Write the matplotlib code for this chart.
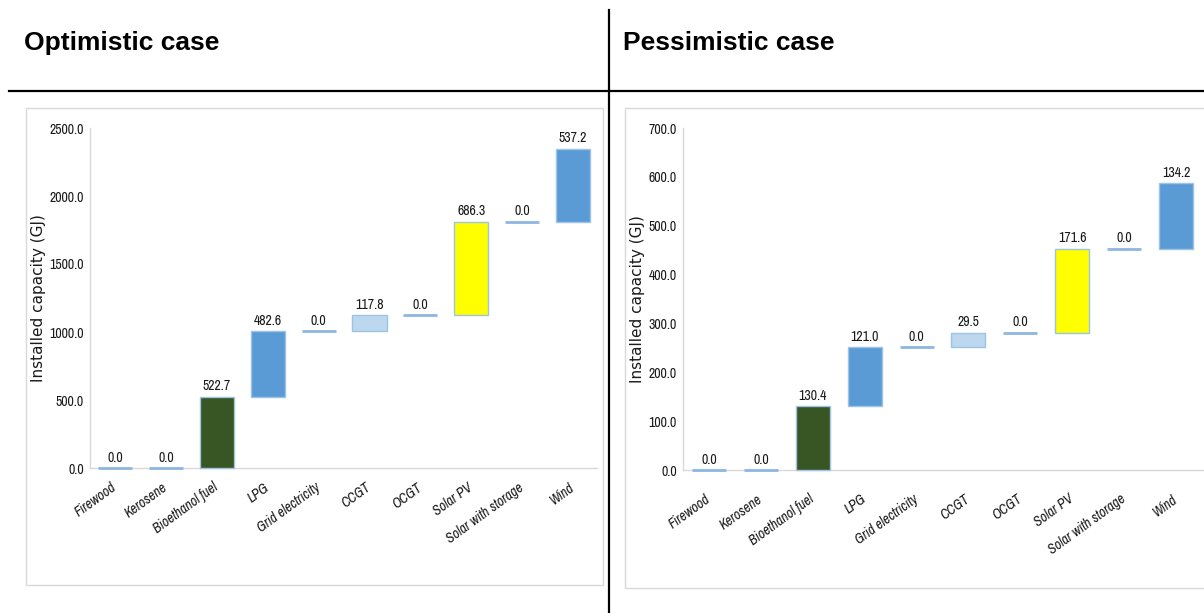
import matplotlib
matplotlib.use("Agg")
import matplotlib.pyplot as plt
from matplotlib.patches import Rectangle
from matplotlib.lines import Line2D
import matplotlib.transforms as mtransforms

categories = ["Firewood", "Kerosene", "Bioethanol fuel", "LPG", "Grid electricity",
              "CCGT", "OCGT", "Solar PV", "Solar with storage", "Wind"]
optimistic = [0.0, 0.0, 522.7, 482.6, 0.0, 117.8, 0.0, 686.3, 0.0, 537.2]
pessimistic = [0.0, 0.0, 130.4, 121.0, 0.0, 29.5, 0.0, 171.6, 0.0, 134.2]
bar_colors = ["#BDD7EE", "#BDD7EE", "#375623", "#5B9BD5", "#BDD7EE",
              "#BDD7EE", "#BDD7EE", "#FFFF00", "#BDD7EE", "#5B9BD5"]
opt_ticks = [0, 500, 1000, 1500, 2000, 2500]
pes_ticks = [0, 100, 200, 300, 400, 500, 600, 700]

NARROW = ["Archivo Narrow", "Liberation Sans", "DejaVu Sans"]
SANS = ["Liberation Sans", "DejaVu Sans"]

W, H = 1204, 613
fig = plt.figure(figsize=(W / 100, H / 100), dpi=100)
fig.patch.set_facecolor("white")


def fx(px):
    return px / W


def fy(py):
    return 1 - py / H


# separators
fig.add_artist(Line2D([fx(9), 1], [fy(90.5), fy(90.5)], color="black", lw=1.6,
                      transform=fig.transFigure))
fig.add_artist(Line2D([fx(609), fx(609)], [fy(10), 0], color="black", lw=1.6,
                      transform=fig.transFigure))

# titles
fig.text(fx(24), fy(43), "Optimistic case", fontsize=19, fontweight="bold",
         family=SANS, va="center", ha="left")
fig.text(fx(623), fy(43), "Pessimistic case", fontsize=19, fontweight="bold",
         family=SANS, va="center", ha="left")

# chart area boxes
fig.add_artist(Rectangle((fx(26), fy(585)), fx(603 - 26), (585 - 108) / H,
                         transform=fig.transFigure, fill=False,
                         edgecolor="#D9D9D9", lw=1.0))
fig.add_artist(Rectangle((fx(625), fy(588)), fx(1204 - 625 + 10), (588 - 108) / H,
                         transform=fig.transFigure, fill=False,
                         edgecolor="#D9D9D9", lw=1.0, clip_on=False))


def draw(ax, values, ticks, xlim, width, xpad, xshift, ylab_x):
    bottoms = []
    run = 0.0
    for v in values:
        bottoms.append(run)
        run += v
    xs = list(range(len(values)))
    for x, v, b, c in zip(xs, values, bottoms, bar_colors):
        if v == 0:
            bars = ax.bar(x, v, bottom=b, width=width, color=c, edgecolor="#8DB6E2",
                          linewidth=2.0, zorder=3)
        else:
            bars = ax.bar(x, v, bottom=b, width=width, color=c, edgecolor="#9DC3E6",
                          linewidth=1.0, zorder=3)
        for p in bars:
            p.set_clip_on(False)
        ax.annotate(f"{v:.1f}", (x, b + v), xytext=(0, 2.5), textcoords="offset points",
                    ha="center", va="bottom", fontsize=10, family=NARROW,
                    color="#1a1a1a")
    ax.set_xlim(*xlim)
    ax.set_ylim(ticks[0], ticks[-1])
    ax.set_yticks(ticks)
    ax.set_yticklabels([f"{t:.1f}" for t in ticks], family=NARROW, fontsize=10,
                       color="#1a1a1a")
    ax.set_xticks(xs)
    ax.set_xticklabels(categories, rotation=36, ha="right", va="center",
                       rotation_mode="anchor", fontstyle="italic", family=NARROW,
                       fontsize=10, color="#1a1a1a")
    offset = mtransforms.ScaledTranslation(xshift / 100, 0, fig.dpi_scale_trans)
    for lab in ax.get_xticklabels():
        lab.set_transform(lab.get_transform() + offset)
    ax.tick_params(axis="both", length=0)
    ax.tick_params(axis="y", pad=4.5)
    ax.tick_params(axis="x", pad=xpad)
    for s in ["top", "right"]:
        ax.spines[s].set_visible(False)
    for s in ["left", "bottom"]:
        ax.spines[s].set_color("#D9D9D9")
        ax.spines[s].set_linewidth(1.0)
    ax.set_ylabel("Installed capacity (GJ)", family=["DejaVu Sans"], fontsize=11,
                  color="#1a1a1a")
    ax.yaxis.set_label_coords(ylab_x, 0.5)
    ax.set_facecolor("none")


ax1 = fig.add_axes([fx(90), fy(468), fx(597 - 90), (468 - 128) / H])
draw(ax1, optimistic, opt_ticks, (-0.49, 9.47), 0.67, xpad=13, xshift=7,
     ylab_x=(46 - 90) / (597 - 90))

ax2 = fig.add_axes([fx(683), fy(470), fx(1204 - 683), (470 - 128) / H])
draw(ax2, pessimistic, pes_ticks, (-0.5, 9.54), 0.655, xpad=20, xshift=5,
     ylab_x=(645 - 683) / (1204 - 683))

fig.savefig("out.png", dpi=100, facecolor="white")
